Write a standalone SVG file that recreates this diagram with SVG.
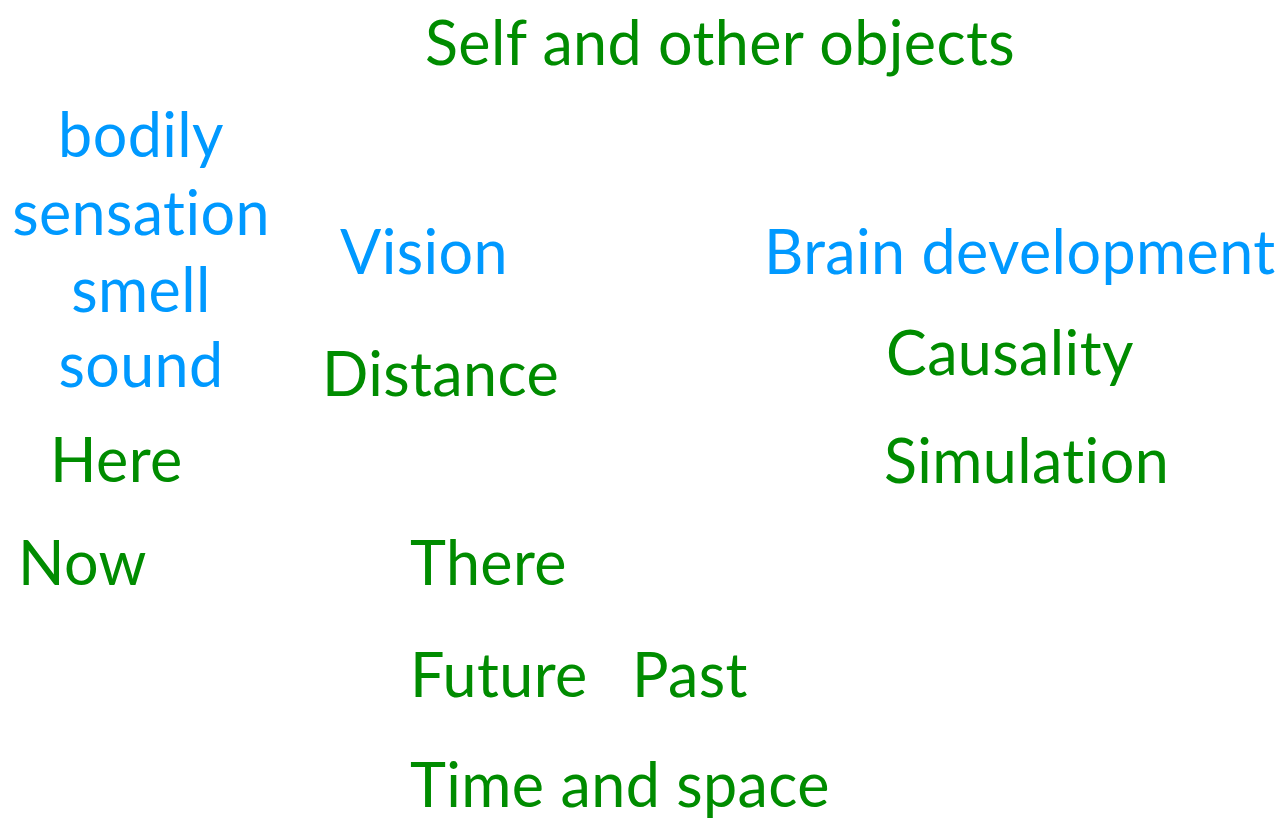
<svg xmlns="http://www.w3.org/2000/svg" width="1280" height="822" viewBox="0 0 1280 822">
<style>
text{font-family:Lato,"Open Sans","Liberation Sans",sans-serif;font-size:61px;letter-spacing:0.4px;font-variant-ligatures:none;font-feature-settings:"liga" 0}
.b{fill:#0099FF}
.g{fill:#008C00}
</style>
<rect width="1280" height="822" fill="#ffffff"/>
<g id="self"><text class="g" x="425" y="65">Self and other objects</text></g>
<g id="senses">
<text class="b" x="141" y="157" text-anchor="middle">bodily</text>
<text class="b" x="141" y="235" text-anchor="middle">sensation</text>
<text class="b" x="141" y="312" text-anchor="middle">smell</text>
<text class="b" x="141" y="387" text-anchor="middle">sound</text>
</g>
<g id="vision"><text class="b" x="340" y="274">Vision</text></g>
<g id="brain"><text class="b" x="764" y="274">Brain development</text></g>
<g id="causality"><text class="g" x="886" y="375">Causality</text></g>
<g id="distance"><text class="g" x="322" y="396">Distance</text></g>
<g id="here"><text class="g" x="50" y="482">Here</text></g>
<g id="simulation"><text class="g" x="884" y="483">Simulation</text></g>
<g id="now"><text class="g" x="18" y="585">Now</text></g>
<g id="there"><text class="g" x="410" y="585">There</text></g>
<g id="future"><text class="g" x="410" y="697">Future</text></g>
<g id="past"><text class="g" x="632" y="697">Past</text></g>
<g id="timespace"><text class="g" x="410" y="807">Time and space</text></g>
<g id="connectors"/>
</svg>
